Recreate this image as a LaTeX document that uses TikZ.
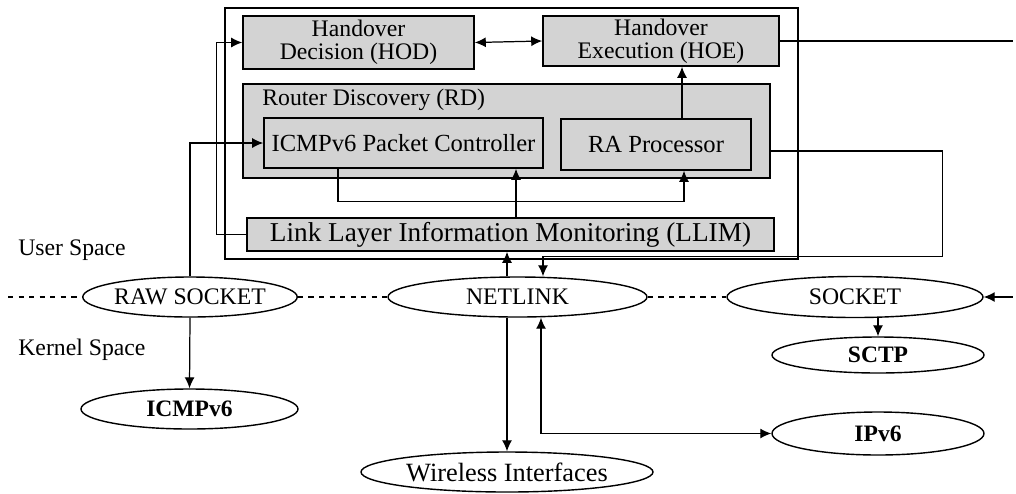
\documentclass[tikz,border=0pt]{standalone}
\usepackage{fontspec}
\setmainfont{Liberation Serif}
\usepackage{xcolor}
\usepackage{tikz}
\usetikzlibrary{positioning}
\usetikzlibrary{shapes,arrows.meta}
\definecolor{boxgray}{RGB}{211,211,211}
\tikzstyle{block} = [rectangle, draw, line width=0.9pt, fill=boxgray, align=center, inner sep=0pt, font=\fontsize{13.5}{13}\selectfont]
\tikzstyle{iface} = [ellipse, draw, line width=0.8pt, inner sep=0pt, font=\fontsize{13.5}{15}\selectfont]
\tikzstyle{proto} = [ellipse, draw, line width=0.8pt, inner sep=0pt, font=\fontsize{13.4}{15}\selectfont\bfseries]
\tikzstyle{boundingbox} = [line width=0.9pt]
\tikzstyle{border} = [draw, dashed, line width=0.8pt]
\tikzstyle{arrow} = [draw, -{Latex[length=2.2mm,width=2mm]}, line width=0.7pt]
\tikzstyle{twoway} = [draw, {Latex[length=2.2mm,width=2mm]}-{Latex[length=2.2mm,width=2mm]}, line width=0.7pt]
\tikzstyle{line} = [draw, line width=0.7pt]

\begin{document}
\begin{tikzpicture}
\useasboundingbox (0,0) rectangle (20.32,-9.86);
%% user space modules
\draw[boundingbox] (4.5,-0.16) rectangle (15.96,-5.18);
\node[block, minimum width=4.62cm, minimum height=1.06cm] at (7.17,-0.85) (HOD) {Handover\\Decision (HOD)};
\node[block, minimum width=4.72cm, minimum height=1.0cm] at (13.22,-0.82) (HOE) {Handover\\Execution (HOE)};
\path[twoway] (HOD.east) to (HOE.west);

\node[block, minimum width=10.54cm, minimum height=1.88cm] at (10.13,-2.62) (RD) {};
\node[anchor=west, inner sep=0pt, font=\fontsize{13.5}{15}\selectfont] at (5.24,-2.0) (RDlabel) {Router Discovery (RD)};
\node[block, font=\fontsize{14}{15}\selectfont, minimum width=5.58cm, minimum height=1.0cm] at (8.07,-2.86) (ICMPPC) {ICMPv6 Packet Controller};
\node[block, font=\fontsize{14}{15}\selectfont, minimum width=3.8cm, minimum height=1.02cm] at (13.12,-2.89) (RA) {RA Processor};
\path[arrow] ([xshift=0.52cm]RA.north) to ([xshift=0.52cm]RA.north |- HOE.south);
\path[arrow] ([xshift=-1.31cm]ICMPPC.south) |- ([xshift=0.56cm,yshift=-0.62cm]RA.south) to ([xshift=0.56cm]RA.south);

\node[block, font=\fontsize{15.5}{16}\selectfont, minimum width=10.54cm, minimum height=0.66cm] at (10.21,-4.69) (LLIM) {Link Layer Information Monitoring (LLIM)};
\path[arrow] ([xshift=0.11cm]LLIM.north) to ([xshift=0.11cm]LLIM.north |- ICMPPC.south);
\path[arrow] (LLIM.west) -- ++(-0.6,0) |- (HOD.west);

%% user / kernel border
\node[anchor=west, inner sep=0pt, font=\fontsize{13.5}{15}\selectfont] at (0.36,-5.0) (user) {User Space};
\node[anchor=west, inner sep=0pt, font=\fontsize{13.5}{15}\selectfont] at (0.36,-7.0) (kernel) {Kernel Space};
\node[iface, minimum width=4.18cm, minimum height=0.8cm] at (3.8,-5.94) (RAW) {RAW SOCKET};
\node[iface, minimum width=5.18cm, minimum height=0.8cm] at (10.35,-5.94) (NETLINK) {NETLINK};
\node[iface, minimum width=5.12cm, minimum height=0.82cm] at (17.1,-5.94) (SOCKET) {SOCKET};
\coordinate (borderstart) at (0.16,-5.94);
\path[border] (borderstart) -- (RAW.west);
\path[border] (RAW.east) -- (NETLINK.west);
\path[border] (NETLINK.east) -- (SOCKET.west);

%% kernel space
\node[proto, minimum width=4.34cm, minimum height=0.8cm] at (3.79,-8.18) (ICMP) {ICMPv6};
\node[proto, minimum width=4.24cm, minimum height=0.72cm] at (17.56,-7.1) (SCTP) {SCTP};
\node[proto, minimum width=4.24cm, minimum height=0.86cm] at (17.56,-8.67) (IPv6) {IPv6};
\node[iface, font=\fontsize{15}{16}\selectfont, minimum width=5.84cm, minimum height=0.8cm] at (10.14,-9.44) (WIF) {Wireless Interfaces};

\path[arrow] (RAW.north) |- (ICMPPC.west);
\path[arrow] (RAW.south) to (ICMP.north);
\path[arrow] ([xshift=-0.21cm]NETLINK.north) to ([xshift=-0.21cm]NETLINK.north |- LLIM.south);
\path[arrow] ([yshift=-0.13cm]RA.east -| RD.east) -- ++(3.44,0) |- ([xshift=0.51cm,yshift=0.4cm]NETLINK.north) to ([xshift=0.51cm]NETLINK.north);
\path[arrow] ([xshift=-0.21cm]NETLINK.south) to ([xshift=-0.21cm]NETLINK.south |- WIF.north);
\path[twoway] ([xshift=0.47cm]NETLINK.south) |- (IPv6.west);
\path[arrow] (SCTP.north |- SOCKET.south) to (SCTP.north);

%% to and from the right
\coordinate (hoeout) at (20.25,-0.82);
\coordinate (sockin) at (20.25,-5.94);
\path[line] (HOE.east) -- (hoeout);
\path[arrow] (sockin) -- (SOCKET.east);
\end{tikzpicture}
\end{document}
